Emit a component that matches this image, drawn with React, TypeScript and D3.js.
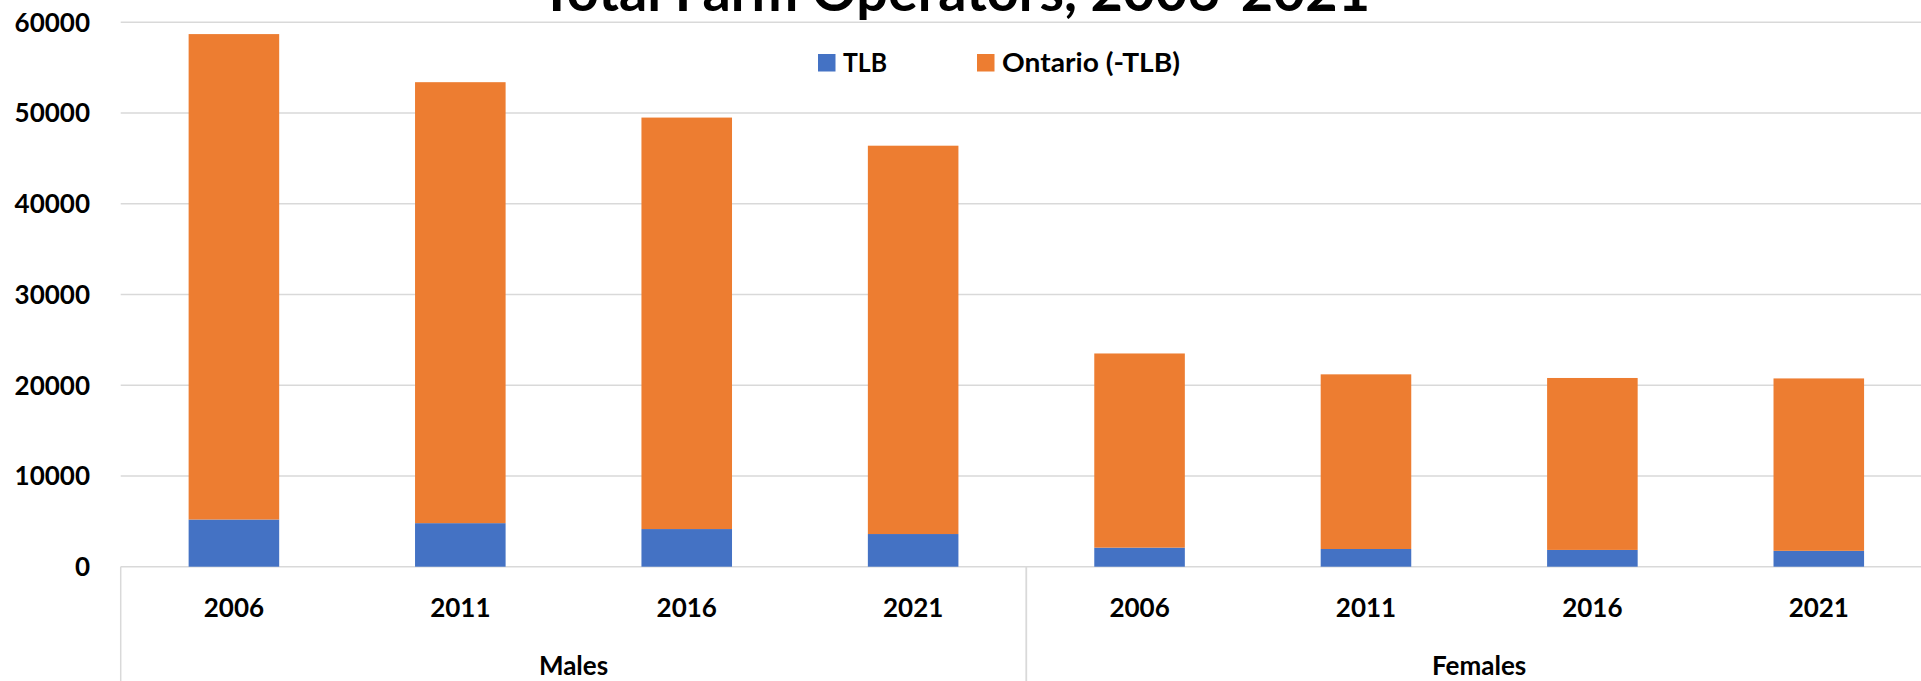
import React from 'react';
import * as d3 from 'd3';

// Total farm operators, stacked by TLB and rest of Ontario
const groups = ['Males', 'Females'];
const years = ['2006', '2011', '2016', '2021'];
const seriesNames = ['TLB', 'Ontario (-TLB)'];
const seriesColors = ['#4472C4', '#ED7D31'];

const tlbMales = [5200, 4800, 4150, 3600];
const ontarioMales = [53500, 48600, 45350, 42800];
const tlbFemales = [2100, 1950, 1850, 1750];
const ontarioFemales = [21400, 19250, 18950, 19000];

const yTicks = [0, 10000, 20000, 30000, 40000, 50000, 60000];

const width = 1921;
const height = 681;
const margin = { top: 22.3, left: 120.7, bottom: 566.7, right: 1932 };

interface Row {
    key: string;
    group: string;
    year: string;
    TLB: number;
    'Ontario (-TLB)': number;
}

const rows: Row[] = [];
groups.forEach((g, gi) => {
    const tlb = gi === 0 ? tlbMales : tlbFemales;
    const ont = gi === 0 ? ontarioMales : ontarioFemales;
    years.forEach((y, i) => {
        rows.push({ key: `${g}-${y}`, group: g, year: y, TLB: tlb[i], 'Ontario (-TLB)': ont[i] });
    });
});

const font = 'Lato, "Open Sans", sans-serif';

export default function App() {
    const x = d3.scaleBand<string>()
        .domain(rows.map((d) => d.key))
        .range([margin.left, margin.right])
        .paddingInner(0.6)
        .paddingOuter(0.3);

    const y = d3.scaleLinear()
        .domain([0, 60000])
        .range([margin.bottom, margin.top]);

    const stacked = d3.stack<Row>().keys(seriesNames)(rows);

    // outer category axis: group spans
    const groupSpan = (g: string) => {
        const keys = rows.filter((r) => r.group === g).map((r) => r.key);
        const x0 = (x(keys[0]) ?? 0) - x.step() * x.paddingInner() / 2;
        const x1 = (x(keys[keys.length - 1]) ?? 0) + x.bandwidth() + x.step() * x.paddingInner() / 2;
        return [x0, x1];
    };

    return (
        <div style={{ position: 'fixed', left: 0, top: 0, background: '#fff' }}>
            <svg width={width} height={height} style={{ display: 'block', fontFamily: font }}>
                <rect width={width} height={height} fill="#fff" />

                {/* title, cut at the top */}
                <text x={540} y={11} fontSize={55} fontWeight="bold" fill="#000" textLength={830} lengthAdjust="spacingAndGlyphs">
                    Total Farm Operators, 2006-2021
                </text>

                {/* gridlines */}
                {yTicks.map((t) => (
                    <line key={t} x1={margin.left} x2={margin.right} y1={y(t)} y2={y(t)}
                        stroke="#D9D9D9" strokeWidth={1.5} />
                ))}

                {/* y labels */}
                {yTicks.map((t) => (
                    <text key={`l${t}`} x={90} y={y(t)} dy="0.36em" textAnchor="end"
                        fontSize={26} fontWeight="bold" fill="#000">
                        {t}
                    </text>
                ))}

                {/* bars */}
                {stacked.map((s, si) => (
                    <g key={s.key} fill={seriesColors[si]}>
                        {s.map((d) => (
                            <rect key={d.data.key} x={x(d.data.key)} width={x.bandwidth()}
                                y={y(d[1])} height={y(d[0]) - y(d[1])} />
                        ))}
                    </g>
                ))}

                {/* category axis box */}
                {groups.map((g) => {
                    const [x0, x1] = groupSpan(g);
                    return (
                        <g key={g}>
                            <line x1={x0} x2={x0} y1={margin.bottom} y2={height} stroke="#D9D9D9" strokeWidth={1.5} />
                            <line x1={x1} x2={x1} y1={margin.bottom} y2={height} stroke="#D9D9D9" strokeWidth={1.5} />
                            <text x={(x0 + x1) / 2} y={675} textAnchor="middle" fontSize={26} fontWeight="bold" fill="#000">
                                {g}
                            </text>
                        </g>
                    );
                })}

                {rows.map((r) => (
                    <text key={`x${r.key}`} x={(x(r.key) ?? 0) + x.bandwidth() / 2} y={616.5}
                        textAnchor="middle" fontSize={26} fontWeight="bold" fill="#000">
                        {r.year}
                    </text>
                ))}

                {/* legend */}
                <g>
                    <rect x={818} y={54} width={17.5} height={17.5} fill={seriesColors[0]} />
                    <text x={843} y={71.5} fontSize={26} fontWeight="bold" fill="#000"
                        textLength={44} lengthAdjust="spacingAndGlyphs">{seriesNames[0]}</text>
                    <rect x={977} y={54} width={17.5} height={17.5} fill={seriesColors[1]} />
                    <text x={1002} y={71.5} fontSize={26} fontWeight="bold" fill="#000"
                        textLength={178} lengthAdjust="spacingAndGlyphs">{seriesNames[1]}</text>
                </g>
            </svg>
        </div>
    );
}
